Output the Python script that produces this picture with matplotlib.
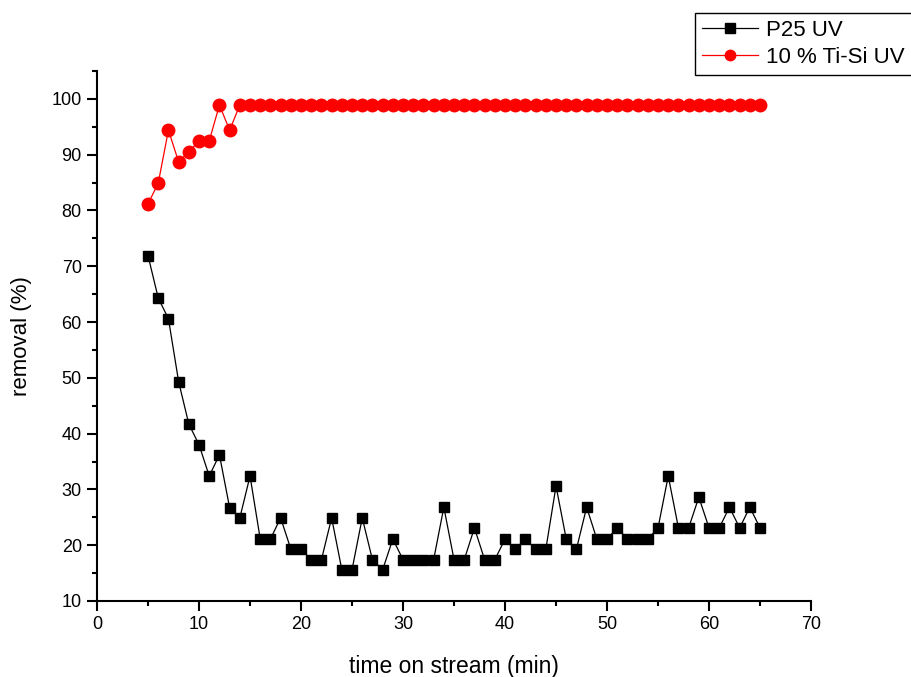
import matplotlib
matplotlib.use("Agg")
import matplotlib.pyplot as plt
from matplotlib.ticker import MultipleLocator

plt.rcParams['font.family'] = ['Liberation Sans', 'DejaVu Sans']

time_min = list(range(5, 66))

p25_uv = [71.9, 64.3, 60.6, 49.3, 41.7, 38.0, 32.4, 36.2, 26.7, 24.9,
          32.4, 21.1, 21.1, 24.9, 19.3, 19.3, 17.4, 17.4, 24.9, 15.6,
          15.6, 24.9, 17.4, 15.6, 21.1, 17.4, 17.4, 17.4, 17.4, 26.8,
          17.4, 17.4, 23.1, 17.4, 17.4, 21.1, 19.3, 21.1, 19.3, 19.3,
          30.6, 21.1, 19.3, 26.8, 21.1, 21.1, 23.1, 21.1, 21.1, 21.1,
          23.1, 32.4, 23.1, 23.1, 28.6, 23.1, 23.1, 26.8, 23.1, 26.8,
          23.1]

tisi_uv = [81.2, 84.9, 94.4, 88.7, 90.5, 92.5, 92.5, 98.9, 94.4, 98.9] + [98.9] * 51

series_labels = ["P25 UV", "10 % Ti-Si UV"]

fig = plt.figure(figsize=(9.12, 6.77), dpi=100)
ax = fig.add_axes([0.1064, 0.1123, 0.7829, 0.7828])

ax.plot(time_min, p25_uv, color='black', lw=0.9, marker='s', markersize=7.5,
        markerfacecolor='black', markeredgecolor='black', label=series_labels[0])
ax.plot(time_min, tisi_uv, color='red', lw=0.9, marker='o', markersize=9,
        markerfacecolor='red', markeredgecolor='red', label=series_labels[1])

ax.set_xlim(0, 70)
ax.set_ylim(10, 105)
ax.xaxis.set_major_locator(MultipleLocator(10))
ax.xaxis.set_minor_locator(MultipleLocator(5))
ax.yaxis.set_major_locator(MultipleLocator(10))
ax.yaxis.set_minor_locator(MultipleLocator(5))
ax.set_yticks(range(10, 101, 10))

for s in ['top', 'right']:
    ax.spines[s].set_visible(False)
for s in ['left', 'bottom']:
    ax.spines[s].set_linewidth(1.5)

ax.tick_params(axis='both', which='major', direction='out', length=7, width=1.5,
               labelsize=13, pad=4)
ax.tick_params(axis='both', which='minor', direction='out', length=3.5, width=1.5)

ax.set_xlabel("time on stream (min)", fontsize=16.5, labelpad=16)
ax.set_ylabel("removal (%)", fontsize=16, labelpad=14)

leg = fig.legend(loc='upper right', bbox_to_anchor=(0.9995, 0.981), fontsize=16,
                 frameon=True, fancybox=False, edgecolor='black', framealpha=1,
                 handlelength=2.55, borderpad=0.3, labelspacing=0.3,
                 handletextpad=0.35, borderaxespad=0.0)
leg.get_frame().set_linewidth(1.0)
for h in leg.legend_handles:
    h.set_markersize(7.5)

fig.savefig("out.png", dpi=100)
